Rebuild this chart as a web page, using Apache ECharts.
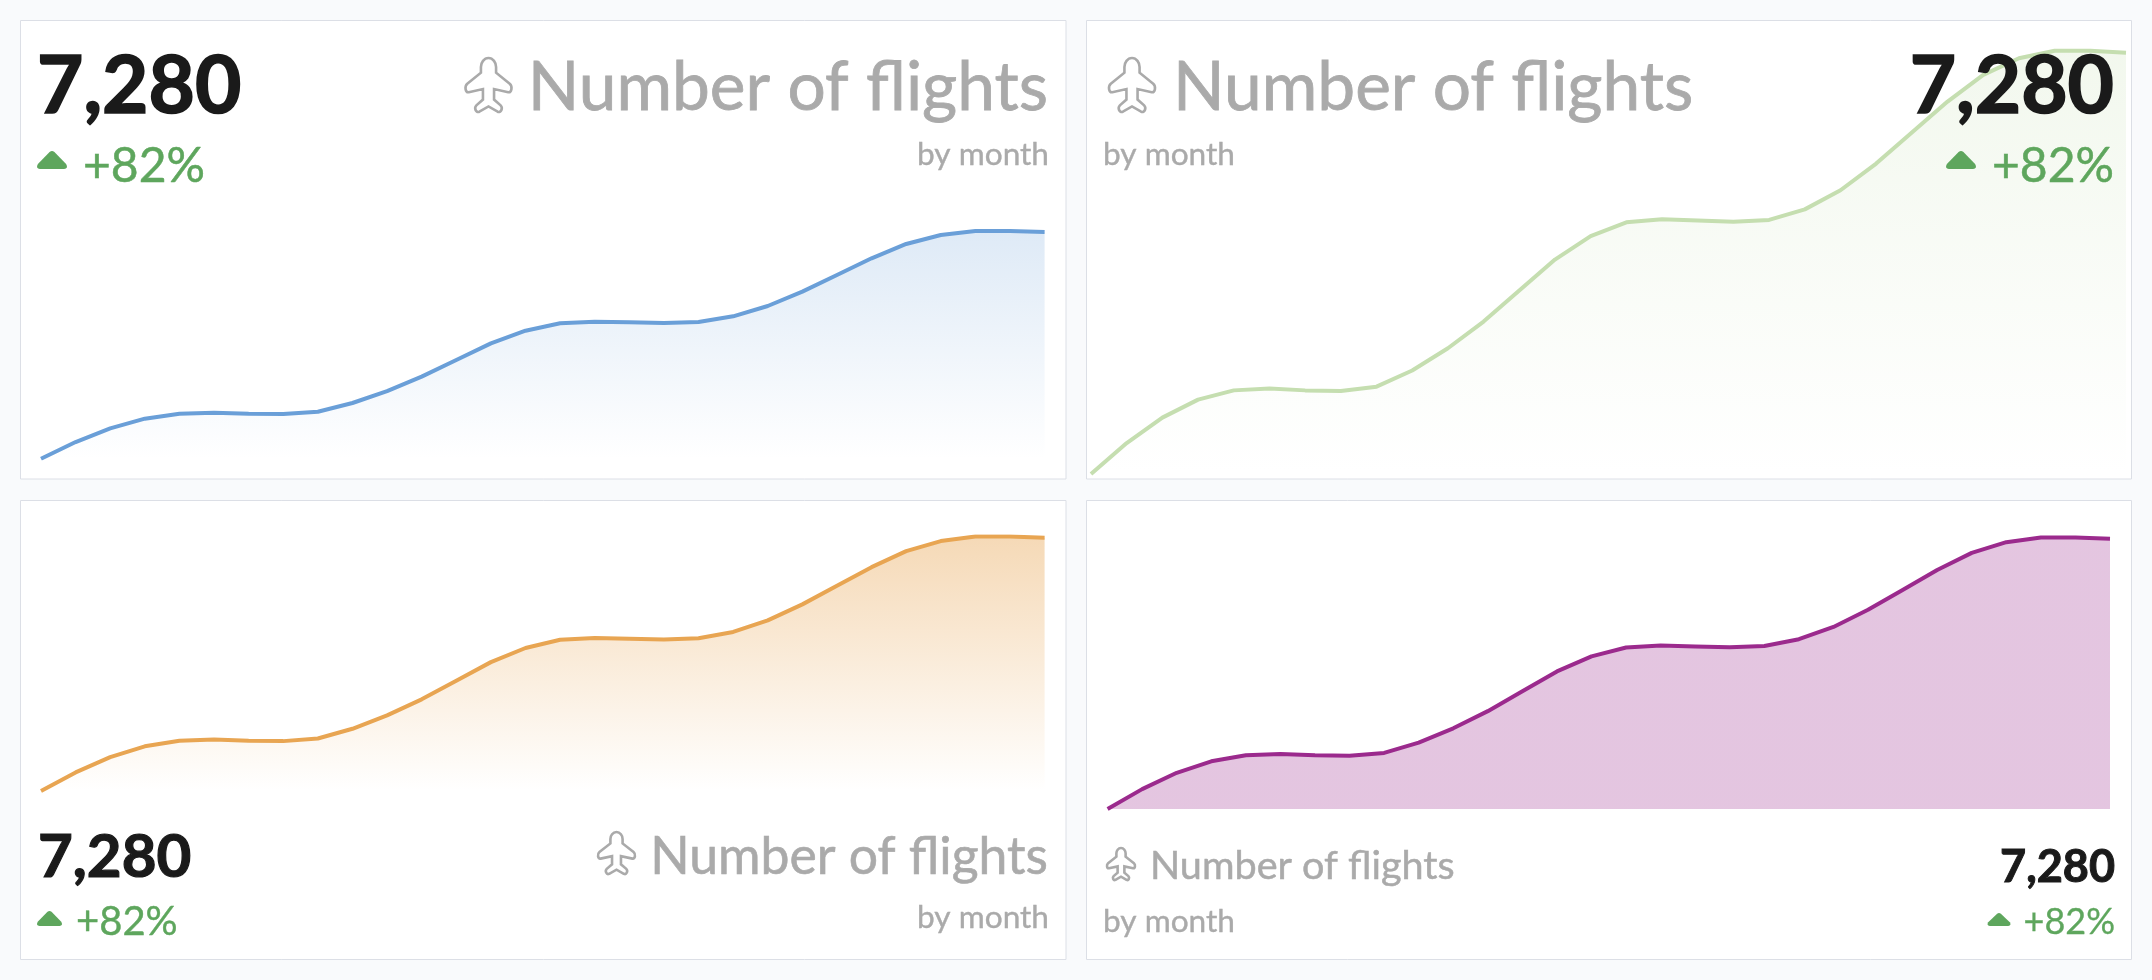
<!DOCTYPE html>
<html>
<head>
<meta charset="utf-8">
<style>html,body{margin:0;padding:0;background:#f9fafc}#kpi{width:2152px;height:980px}</style>
<script src="https://cdn.jsdelivr.net/npm/echarts@6/dist/echarts.min.js"></script>
</head>
<body>
<div id="kpi"></div>
<script>
// Flights per month, shared by all four KPI cards
const months = ['1','2','3','4','5','6','7','8','9','10','11','12','13','14','15','16','17','18','19','20','21','22','23','24','25','26','27','28','29','30'];
const flights = [4000,4241,4439,4579,4651,4666,4651,4646,4680,4806,4979,5187,5428,5669,5852,5959,5983,5973,5963,5978,6060,6209,6417,6658,6899,7107,7237,7295,7295,7280];
const valueLabel = '7,280';
const changeLabel = '+82%';
const titleLabel = 'Number of flights';
const subtitleLabel = 'by month';

const AXIS_MIN = 4000, AXIS_MAX = 7300;
const GREY = '#aaaaaa', GREEN = '#5ea65d', INK = '#1a1a1a', FONT = 'Lato';

const PLANE = 'M24 1.5C19.5 1.5 16.5 6 16.5 10L16.5 15.5L3 26C0 28.5 1 34.5 4.5 34L18.5 31L18.5 41L12 46.5C9.5 49 11.5 54 15 52.5L24 47.5L33 52.5C36.5 54 38.5 49 36 46.5L29.5 41L29.5 31L43.5 34C47 34.5 48 28.5 45 26L31.5 15.5L31.5 10C31.5 6 28.5 1.5 24 1.5Z';
const CARET = 'M12.6 1.2Q15 -0.6 17.4 1.2L29 13Q31.5 17.4 27 18L3 18Q-1.5 17.4 1 13Z';

const cards = [
  { box:[20.5,20.5,1045.5,458.5], plot:[41,230.6,1003.6,228.1], line:'#6a9fd8', fillTop:'rgba(106,159,216,0.22)', fillEnd:'rgba(106,159,216,0)',
    value:{x:37,y:87.5,size:80,align:'left',bold:1.6}, title:{x:1048,y:88.5,size:67.6,align:'right',bold:0.8}, sub:{x:1049,y:155,size:31.6,align:'right',bold:0.4},
    change:{x:83,y:167,size:48,align:'left',bold:0.5}, plane:[465.5,58,46,54], caret:[37,151,30,18] },
  { box:[1086.5,20.5,1045,458.5], plot:[1091,50.1,1035,423.9], line:'#c5deb0', fillTop:'rgba(197,222,176,0.22)', fillEnd:'rgba(197,222,176,0)',
    value:{x:2114,y:87.5,size:80,align:'right',bold:1.6}, title:{x:1173,y:88.5,size:67.6,align:'left',bold:0.8}, sub:{x:1103,y:155,size:31.6,align:'left',bold:0.4},
    change:{x:2114,y:167,size:48,align:'right',bold:0.5}, plane:[1109,58,46,54], caret:[1946,151,30,18] },
  { box:[20.5,500.5,1045.5,459], plot:[41,536.2,1003.6,254.8], line:'#e8a552', fillTop:'rgba(232,165,82,0.42)', fillEnd:'rgba(232,165,82,0)',
    value:{x:38,y:858,size:60,align:'left',bold:1.2}, title:{x:1048,y:857,size:51.7,align:'right',bold:0.6}, sub:{x:1049,y:918,size:31.6,align:'right',bold:0.4},
    change:{x:76,y:922,size:40,align:'left',bold:0.4}, plane:[598,832,37,42], caret:[37,911,25,15] },
  { box:[1086.5,500.5,1045,459], plot:[1107.6,537,1002.4,272], line:'#9b2a8d', fillTop:'rgba(155,42,141,0.27)', fillEnd:'rgba(155,42,141,0.27)',
    value:{x:2115,y:867.5,size:45,align:'right',bold:1}, title:{x:1150,y:866.5,size:39.6,align:'left',bold:0.5}, sub:{x:1103,y:922,size:31.6,align:'left',bold:0.4},
    change:{x:2115,y:922,size:36,align:'right',bold:0.3}, plane:[1107,848,28,32], caret:[1987.5,913,23,13] }
];

// Canvas text comes out lighter than the design, so each label gets a hairline of its own colour
const label = (text, pos, fill, weight) => ({
  type: 'text', z: 20,
  style: { text, x: pos.x, y: pos.y, fill, align: pos.align, verticalAlign: 'middle',
           font: `${weight} ${pos.size}px ${FONT}`, stroke: fill, lineWidth: pos.bold }
});

const graphics = [];
cards.forEach(c => {
  graphics.push({ type:'rect', z:-1, shape:{ x:c.box[0], y:c.box[1], width:c.box[2], height:c.box[3] },
                  style:{ fill:'#ffffff', stroke:'#dcdfe6', lineWidth:1 } });
  graphics.push(label(valueLabel, c.value, INK, 700));
  graphics.push(label(titleLabel, c.title, GREY, 400));
  graphics.push(label(subtitleLabel, c.sub, GREY, 400));
  graphics.push(label(changeLabel, c.change, GREEN, 400));
});

const option = {
  animation: false,
  backgroundColor: '#f9fafc',
  graphic: graphics,
  grid: cards.map(c => ({ left:c.plot[0], top:c.plot[1], width:c.plot[2], height:c.plot[3], show:false })),
  xAxis: cards.map((c, i) => ({ type:'category', gridIndex:i, data:months, boundaryGap:false, show:false })),
  yAxis: cards.map((c, i) => ({ type:'value', gridIndex:i, min:AXIS_MIN, max:AXIS_MAX, show:false })),
  series: cards.map((c, i) => ({
    type:'line', xAxisIndex:i, yAxisIndex:i, data:flights, showSymbol:false, silent:true, z:3,
    lineStyle:{ color:c.line, width:4 },
    areaStyle:{ opacity:1, color:new echarts.graphic.LinearGradient(0,0,0,1,[{offset:0,color:c.fillTop},{offset:1,color:c.fillEnd}]) }
  })).concat([{
    // Plane and caret icons for each card
    type:'custom', coordinateSystem:'none', silent:true, z:20, data:cards.map((c, i) => i),
    renderItem: (params) => {
      const c = cards[params.dataIndex];
      return { type:'group', children:[
        { type:'path', shape:{ pathData:PLANE, x:c.plane[0], y:c.plane[1], width:c.plane[2], height:c.plane[3], layout:'cover' },
          style:{ fill:'none', stroke:GREY, lineWidth:2.6 } },
        { type:'path', shape:{ pathData:CARET, x:c.caret[0], y:c.caret[1], width:c.caret[2], height:c.caret[3], layout:'cover' },
          style:{ fill:GREEN } }
      ]};
    }
  }])
};

echarts.init(document.getElementById('kpi')).setOption(option);
</script>
</body>
</html>
